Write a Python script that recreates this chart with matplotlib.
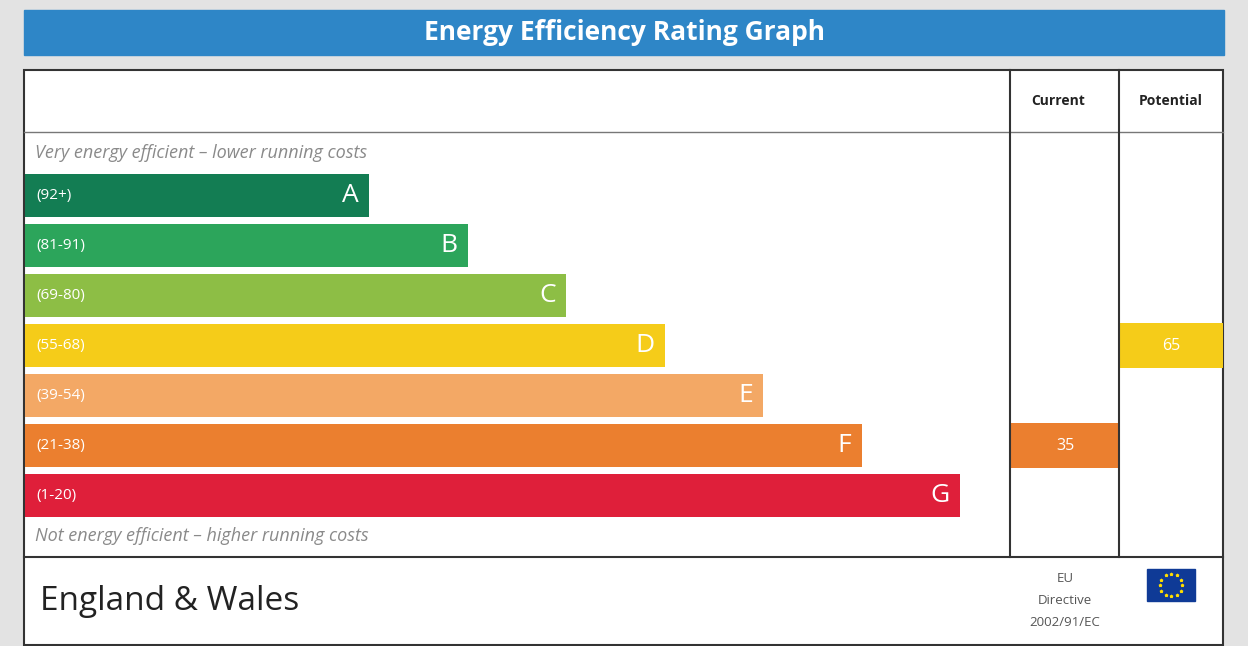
import numpy as np
import matplotlib
matplotlib.use("Agg")
import matplotlib.pyplot as plt
from matplotlib.patches import Rectangle

# bands, best to worst
letters = ["A", "B", "C", "D", "E", "F", "G"]
ranges = ["(92+)", "(81-91)", "(69-80)", "(55-68)", "(39-54)", "(21-38)", "(1-20)"]
lower = [92, 81, 69, 55, 39, 21, 1]
colours = ["#137d53", "#2ca55b", "#8dbe45", "#f5cc19", "#f3a865", "#eb7f2f", "#df1f3a"]

current = 35
potential = 65

W, H = 1248, 646
fig = plt.figure(figsize=(W / 100, H / 100), dpi=100, facecolor="#e3e3e3")
ax = fig.add_axes([0, 0, 1, 1])
ax.set_xlim(0, W)
ax.set_ylim(H, 0)
ax.axis("off")

sans = ["Open Sans", "DejaVu Sans"]


def band_of(value):
    for i, lo in enumerate(lower):
        if value >= lo:
            return i
    return len(lower) - 1


# title strip
ax.add_patch(Rectangle((24, 10), 1200, 45, color="#2e86c7"))
ax.text(624, 33, "Energy Efficiency Rating Graph", color="white", fontsize=19,
        fontweight="bold", family=sans, ha="center", va="center")

# main frame
ax.add_patch(Rectangle((24, 70), 1199, 575, facecolor="white", edgecolor="#333333", lw=1.5))
ax.plot([24, 1223], [132, 132], color="#777777", lw=1)
ax.plot([24, 1223], [557, 557], color="#333333", lw=1.5)
for xc in (1010, 1119):
    ax.plot([xc, xc], [70, 557], color="#333333", lw=1.5)

ax.text(1058, 101, "Current", fontsize=10, fontweight="bold", family=sans,
        color="#222222", ha="center", va="center")
ax.text(1171, 101, "Potential", fontsize=10, fontweight="bold", family=sans,
        color="#222222", ha="center", va="center")

ax.text(35, 153, "Very energy efficient \u2013 lower running costs", fontsize=13,
        style="italic", family=sans, color="#8a8a8a", va="center")
ax.text(35, 536, "Not energy efficient \u2013 higher running costs", fontsize=13,
        style="italic", family=sans, color="#8a8a8a", va="center")

# rating bars
idx = np.arange(len(letters))
ys = 195 + 50 * idx
widths = 344 + 98.5 * idx
ax.barh(ys, widths, left=25, height=43, color=colours)
for y, w, lab, rng in zip(ys, widths, letters, ranges):
    ax.text(36, y, rng, color="white", fontsize=11, family=sans, va="center")
    ax.text(25 + w - 10, y + 1, lab, color="white", fontsize=19, family=sans,
            ha="right", va="center")

# current and potential markers
for value, x0, x1 in ((current, 1011, 1119), (potential, 1120, 1223)):
    b = band_of(value)
    ax.barh(ys[b], x1 - x0, left=x0, height=45, color=colours[b])
    ax.text((x0 + x1) / 2, ys[b] + 1, str(value), color="white", fontsize=11.5,
            family=sans, ha="center", va="center")

# footer
ax.text(40, 602, "England & Wales", fontsize=24, family=sans, color="#222222", va="center")
for y, t in zip((578, 600, 623), ("EU", "Directive", "2002/91/EC")):
    ax.text(1065, y, t, fontsize=9.5, family=sans, color="#555555", ha="center", va="center")

ax.add_patch(Rectangle((1147, 569), 48, 32, color="#0f3a96"))
ang = np.linspace(0, 2 * np.pi, 12, endpoint=False)
ax.scatter(1171 + 11 * np.cos(ang), 585 + 11 * np.sin(ang), s=3, color="#ffdd00",
           marker="*", zorder=5)

fig.savefig("out.png", dpi=100, facecolor=fig.get_facecolor())
